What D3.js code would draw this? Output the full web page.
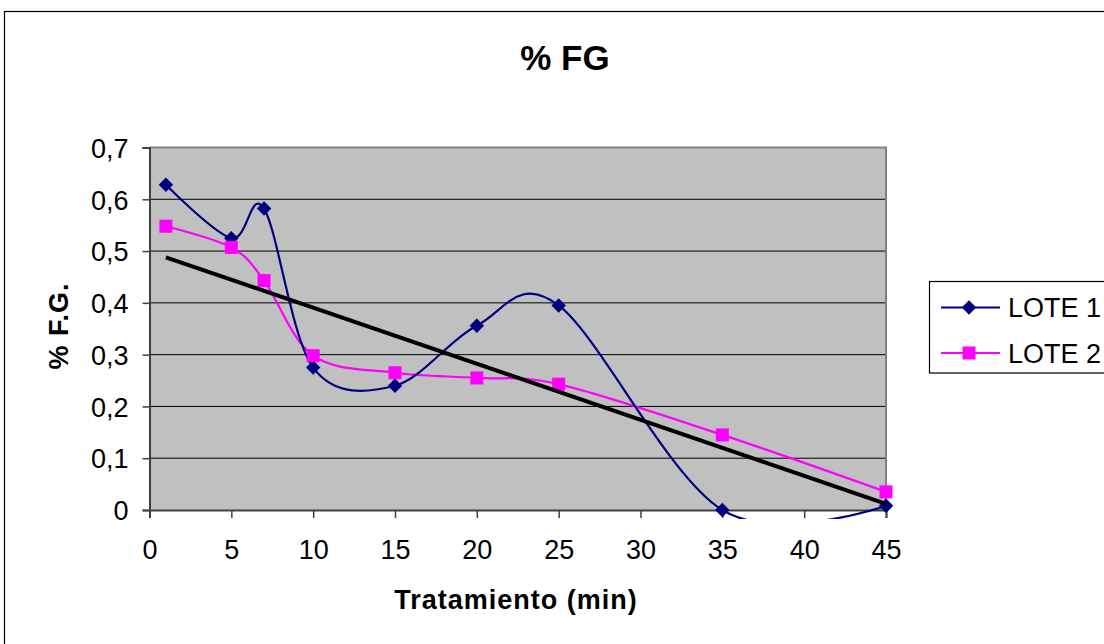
<!DOCTYPE html>
<html>
<head>
<meta charset="utf-8">
<script src="https://cdn.jsdelivr.net/npm/d3@7"></script>
<style>
  html, body { margin: 0; padding: 0; background: #fff; }
  svg { display: block; }
  text { font-family: "Liberation Sans", Arial, sans-serif; fill: #000; }
</style>
</head>
<body>
<svg id="chart" width="1104" height="644"></svg>
<script>
// ---- data ----
const tiempos = [1, 5, 7, 10, 15, 20, 25, 35, 45];
const lote1 = [0.628, 0.525, 0.582, 0.275, 0.240, 0.356, 0.395, 0.000, 0.008];
const lote2 = [0.548, 0.507, 0.443, 0.298, 0.265, 0.255, 0.243, 0.145, 0.035];
const trendX = [1, 45];
const trendY = [0.488, 0.012];
const xTicks = [0, 5, 10, 15, 20, 25, 30, 35, 40, 45];
const yTicks = [0, 0.1, 0.2, 0.3, 0.4, 0.5, 0.6, 0.7];
const seriesNames = ["LOTE 1", "LOTE 2"];
const titulo = "% FG";
const xTitulo = "Tratamiento (min)";
const yTitulo = "% F.G.";

const svg = d3.select("#chart");

// outer chart border
svg.append("rect").attr("x", 4.5).attr("y", 11.5).attr("width", 1200).attr("height", 700)
  .attr("fill", "#fff").attr("stroke", "#000").attr("stroke-width", 1.2);

const L = 149.5, R = 886, T = 147.5, B = 510;
const x = d3.scaleLinear().domain([0, 45]).range([L, R]);
const y = d3.scaleLinear().domain([0, 0.7]).range([B, T]);

// plot background
svg.append("rect").attr("x", L).attr("y", T).attr("width", R - L).attr("height", B - T)
  .attr("fill", "#c0c0c0");

// gridlines
svg.append("g").selectAll("line").data(yTicks.filter(d => d > 0)).join("line")
  .attr("x1", L).attr("x2", R).attr("y1", d => y(d)).attr("y2", d => y(d))
  .attr("stroke", "#000").attr("stroke-width", 1);

// plot border top/right
svg.append("path").attr("d", `M${L},${T}H${R}V${B}`)
  .attr("fill", "none").attr("stroke", "#808080").attr("stroke-width", 2);

// axes
const fmt = d => d3.format(".1f")(d).replace(".", ",");
const yAxis = d3.axisLeft(y).tickValues(yTicks).tickSize(7).tickPadding(14)
  .tickFormat(d => d === 0 ? "0" : fmt(d));
const xAxis = d3.axisBottom(x).tickValues(xTicks).tickSize(8).tickPadding(22);

const gy = svg.append("g").attr("transform", `translate(${L},0)`).call(yAxis);
const gx = svg.append("g").attr("transform", `translate(0,${B})`).call(xAxis);
[gx, gy].forEach(g => {
  g.select(".domain").attr("stroke", "#404040").attr("stroke-width", 2);
  g.selectAll(".tick line").attr("stroke", "#404040").attr("stroke-width", 1.5);
  g.selectAll(".tick text").attr("font-size", 27).attr("fill", "#000")
    .attr("font-family", '"Liberation Sans", Arial, sans-serif');
});
gy.selectAll(".tick text").attr("dy", "0.36em");
gx.selectAll(".tick text").attr("dy", "0.71em");

// clip for smoothed lines
svg.append("clipPath").attr("id", "clip").append("rect")
  .attr("x", L).attr("y", T).attr("width", R - L + 2).attr("height", B - T + 9);

const line = d3.line().x(d => x(d[0])).y(d => y(d[1])).curve(d3.curveCardinal.tension(0));
const s1 = tiempos.map((t, i) => [t, lote1[i]]);
const s2 = tiempos.map((t, i) => [t, lote2[i]]);

const colors = ["#000080", "#ff00ff"];

svg.append("path").datum(s2).attr("d", line).attr("clip-path", "url(#clip)")
  .attr("fill", "none").attr("stroke", colors[1]).attr("stroke-width", 2.2);
svg.append("path").datum(s1).attr("d", line).attr("clip-path", "url(#clip)")
  .attr("fill", "none").attr("stroke", colors[0]).attr("stroke-width", 2.2);

// markers
const diamond = d3.symbol().type(d3.symbolSquare).size(105);
svg.append("g").selectAll("path").data(s1).join("path")
  .attr("d", diamond)
  .attr("transform", d => `translate(${x(d[0])},${y(d[1])}) rotate(45)`)
  .attr("fill", colors[0]);
svg.append("g").selectAll("rect").data(s2).join("rect")
  .attr("x", d => x(d[0]) - 6.5).attr("y", d => y(d[1]) - 6.5)
  .attr("width", 13).attr("height", 13).attr("fill", colors[1]);

// trend line
const trend = trendX.map((t, i) => [t, trendY[i]]);
svg.append("path").datum(trend)
  .attr("d", d3.line().x(d => x(d[0])).y(d => y(d[1])))
  .attr("stroke", "#000").attr("stroke-width", 4).attr("fill", "none");

// titles
svg.append("text").attr("x", 565).attr("y", 70).attr("text-anchor", "middle")
  .attr("font-size", 35).attr("font-weight", "bold").text(titulo);
svg.append("text").attr("x", 516).attr("y", 609).attr("text-anchor", "middle")
  .attr("font-size", 27).attr("font-weight", "bold").attr("letter-spacing", 1).text(xTitulo);
svg.append("text").attr("transform", "translate(68,326) rotate(-90)").attr("text-anchor", "middle")
  .attr("font-size", 27).attr("font-weight", "bold").attr("letter-spacing", 1).text(yTitulo);

// legend
svg.append("rect").attr("x", 929.5).attr("y", 281.5).attr("width", 300).attr("height", 91.5)
  .attr("fill", "#fff").attr("stroke", "#000").attr("stroke-width", 1.2);
const legY = [307.5, 353];
seriesNames.forEach((name, i) => {
  const g = svg.append("g");
  g.append("line").attr("x1", 941).attr("x2", 1000).attr("y1", legY[i]).attr("y2", legY[i])
    .attr("stroke", colors[i]).attr("stroke-width", 2.2);
  if (i === 0) {
    g.append("path").attr("d", diamond).attr("transform", `translate(969,${legY[i]}) rotate(45)`)
      .attr("fill", colors[i]);
  } else {
    g.append("rect").attr("x", 962.5).attr("y", legY[i] - 6.5).attr("width", 13).attr("height", 13)
      .attr("fill", colors[i]);
  }
  g.append("text").attr("x", 1008).attr("y", legY[i] + 9.5).attr("font-size", 27).text(name);
});
</script>
</body>
</html>
